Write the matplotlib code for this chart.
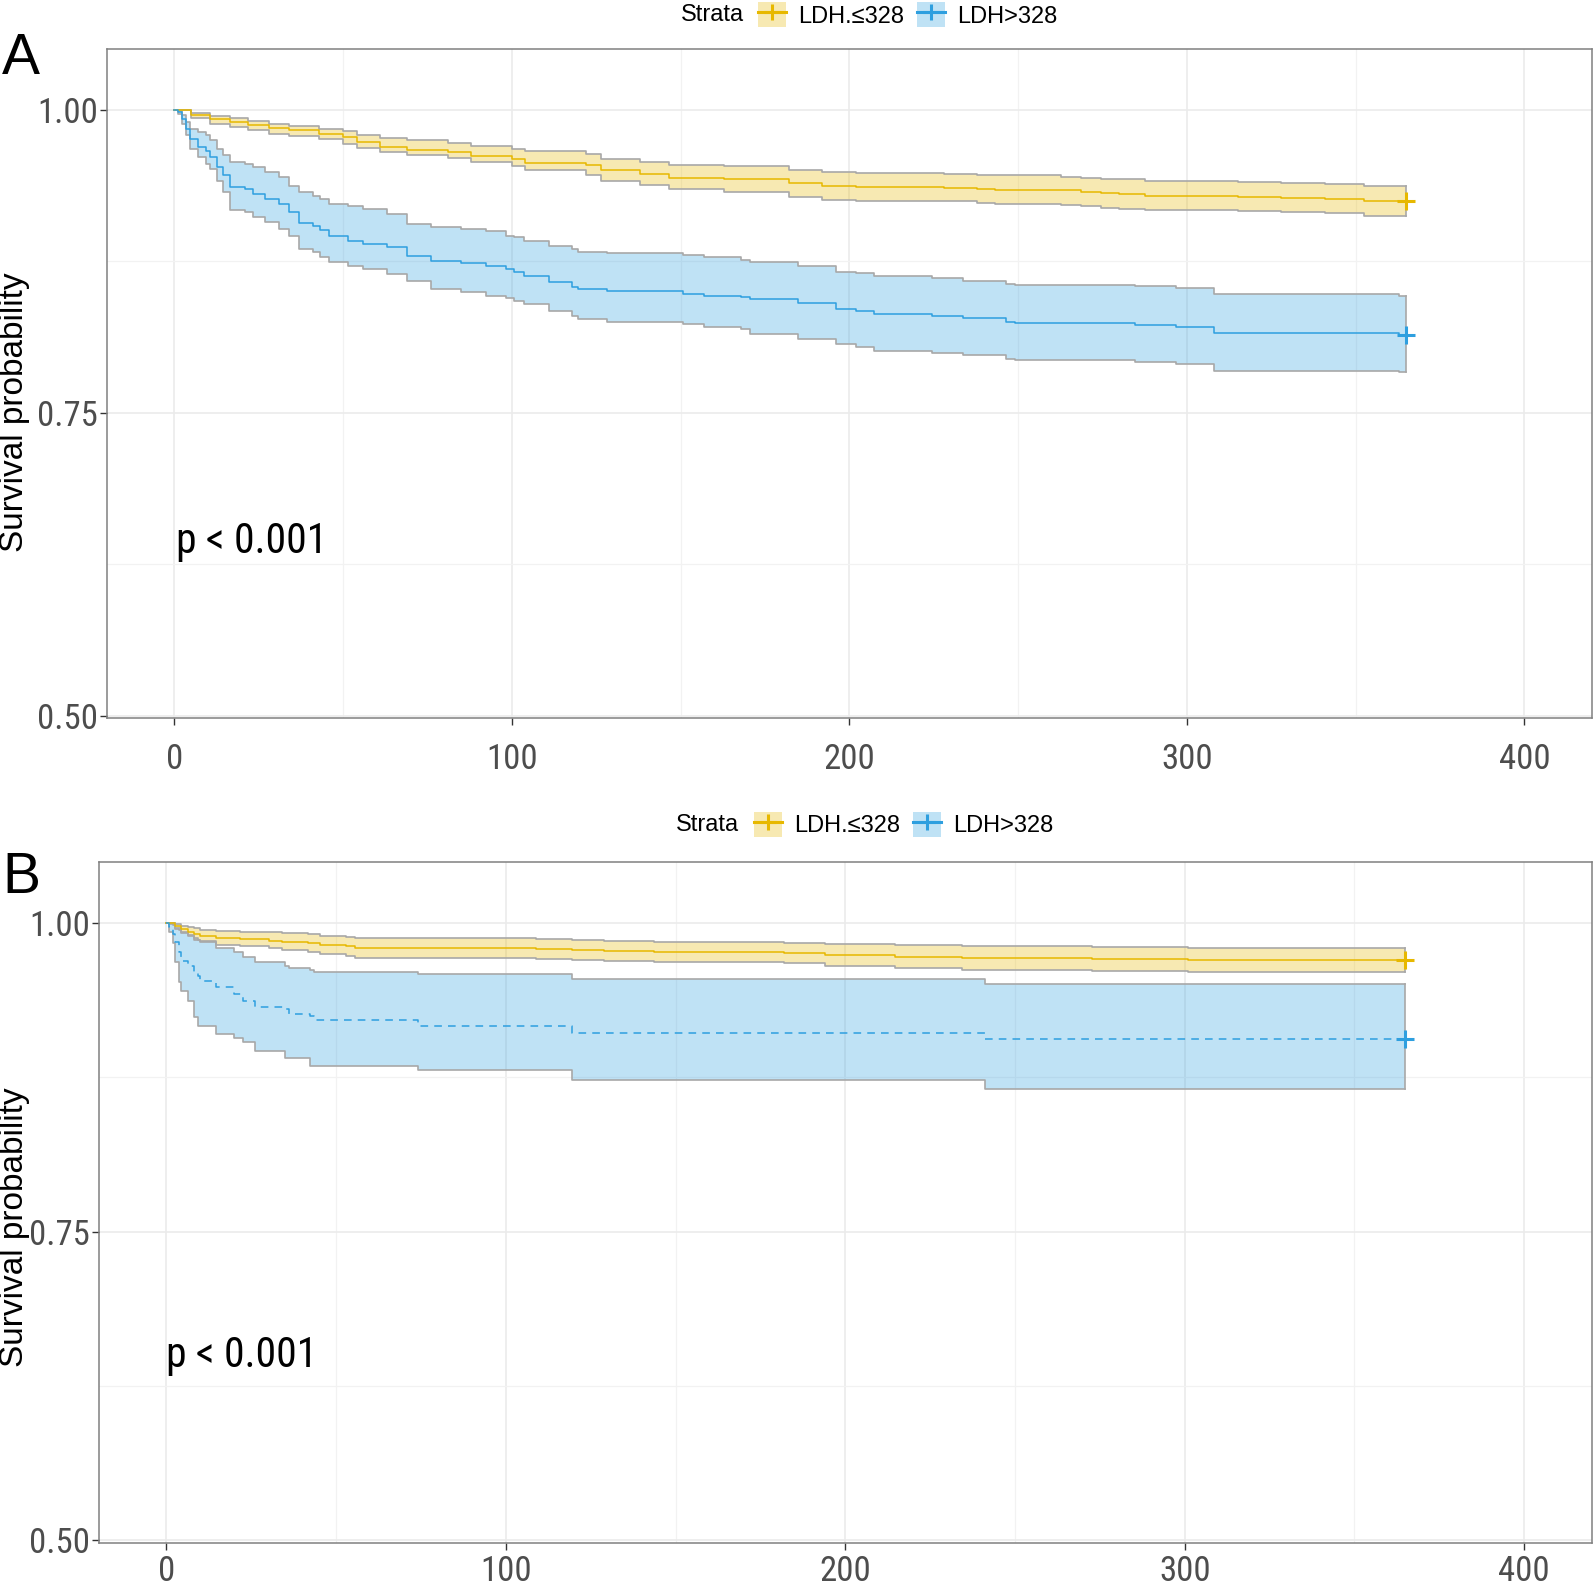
import matplotlib
matplotlib.use("Agg")
import matplotlib.pyplot as plt
from matplotlib import font_manager as fm
from matplotlib.patches import Patch
from matplotlib.lines import Line2D

# ---------------- data ----------------
strata_labels = ["LDH.\u2264328", "LDH>328"]
t_end = 365
pval_text = "p < 0.001"
x_ticks = [0, 100, 200, 300, 400]
y_ticks = [0.50, 0.75, 1.00]

# Panel A, LDH <= 328
a_low_time = [0, 5, 10.5, 16.4, 22, 28, 34, 43, 50, 54, 61, 69, 81, 88, 100, 104, 122, 126.5, 138, 146.5,
              163, 182, 192, 202, 228, 237.7, 243, 262.7, 268.7, 274.6, 280, 287.7, 315, 328, 341, 352.6]
a_low_surv = [1, 0.9953, 0.992, 0.990, 0.9876, 0.985, 0.983, 0.980, 0.9774, 0.973, 0.969, 0.967, 0.965, 0.962,
              0.9595, 0.956, 0.9546, 0.950, 0.947, 0.944, 0.943, 0.9397, 0.9375, 0.9361, 0.9353, 0.9347, 0.9339,
              0.9334, 0.932, 0.9312, 0.9306, 0.9287, 0.9279, 0.927, 0.9265, 0.9246]
a_low_upper = [1, 0.9975, 0.9948, 0.9931, 0.9904, 0.9884, 0.9865, 0.9843, 0.9821, 0.9793, 0.9766, 0.9747, 0.9727,
               0.9705, 0.9678, 0.9656, 0.9637, 0.9595, 0.9568, 0.9546, 0.9532, 0.9507, 0.949, 0.9479, 0.9471,
               0.9463, 0.9458, 0.9444, 0.9436, 0.943, 0.9425, 0.9411, 0.9405, 0.9397, 0.9389, 0.9375]
a_low_lower = [1, 0.9928, 0.9884, 0.9857, 0.9829, 0.9802, 0.9782, 0.9755, 0.9719, 0.9683, 0.965, 0.9623, 0.960,
               0.9568, 0.954, 0.950, 0.9463, 0.9416, 0.938, 0.9348, 0.9325, 0.9284, 0.9259, 0.9251, 0.9246,
               0.9232, 0.9224, 0.9216, 0.9202, 0.9188, 0.9182, 0.9169, 0.9163, 0.9155, 0.9147, 0.9127]

# Panel A, LDH > 328
a_high_time = [0, 1.2, 2.3, 3.5, 4.7, 7, 9.3, 10.5, 12.8, 14.6, 16.4, 21, 23.4, 27, 31, 34, 37, 41, 43.3, 46,
               51.5, 56, 63, 69, 76, 85, 92.5, 98.4, 100.8, 103.7, 111, 117.8, 119.5, 128.3, 150.6, 157, 168,
               170.5, 184.8, 196, 202, 207.4, 224.6, 233.6, 246.3, 249, 284.5, 296.7, 308, 362.7]
a_high_surv = [1, 0.998, 0.9926, 0.984, 0.976, 0.969, 0.966, 0.961, 0.9526, 0.9458, 0.936, 0.9347, 0.9306,
               0.9265, 0.9224, 0.9155, 0.9067, 0.9045, 0.9004, 0.8962, 0.892, 0.8893, 0.8866, 0.8797, 0.875,
               0.8736, 0.8714, 0.8687, 0.866, 0.8632, 0.8582, 0.8536, 0.852, 0.8508, 0.848, 0.8467, 0.8453,
               0.844, 0.8406, 0.836, 0.8337, 0.8315, 0.8296, 0.828, 0.8246, 0.824, 0.8226, 0.8205, 0.8156, 0.8142]
a_high_upper = [1, 0.9986, 0.9953, 0.9898, 0.9843, 0.9816, 0.9788, 0.9747, 0.9678, 0.9623, 0.9568, 0.9554,
                0.9526, 0.9485, 0.9444, 0.9375, 0.932, 0.9292, 0.9265, 0.9224, 0.9204, 0.9182, 0.9141, 0.9058,
                0.9031, 0.9017, 0.9003, 0.8962, 0.8948, 0.8921, 0.888, 0.8852, 0.883, 0.8819, 0.8802, 0.8783,
                0.8764, 0.8742, 0.8709, 0.8665, 0.8654, 0.8626, 0.861, 0.8591, 0.8563, 0.8556, 0.8549, 0.853,
                0.8481, 0.8461]
a_high_lower = [1, 0.9967, 0.9884, 0.9788, 0.9678, 0.9609, 0.9554, 0.9513, 0.9416, 0.932, 0.9169, 0.9155,
                0.9113, 0.9072, 0.9017, 0.8962, 0.8852, 0.8824, 0.8783, 0.8742, 0.8714, 0.8687, 0.8645, 0.859,
                0.8522, 0.8494, 0.8466, 0.8444, 0.8425, 0.8398, 0.8343, 0.8301, 0.8274, 0.8252, 0.8232, 0.8205,
                0.8191, 0.815, 0.8108, 0.8067, 0.8039, 0.8012, 0.7993, 0.7976, 0.7943, 0.7935, 0.7921, 0.7902,
                0.7847, 0.7833]

# Panel B, LDH <= 328
b_low_time = [0, 2.6, 4.4, 6.2, 8, 9.8, 14.6, 21.8, 30.2, 34, 41.6, 45.2, 53, 55.4, 109, 119.5, 129, 143.5,
              182, 194, 214.6, 234.5, 272.6, 301]
b_low_surv = [1, 0.9978, 0.9951, 0.993, 0.9911, 0.9897, 0.9876, 0.987, 0.9857, 0.9849, 0.9838, 0.9822, 0.9816,
              0.9798, 0.9789, 0.978, 0.977, 0.9762, 0.9754, 0.9744, 0.9727, 0.9719, 0.9708, 0.970]
b_low_upper = [1, 0.9992, 0.9978, 0.9965, 0.9957, 0.9946, 0.9935, 0.993, 0.9924, 0.9919, 0.9908, 0.9892,
               0.9887, 0.9876, 0.987, 0.9862, 0.9854, 0.9849, 0.9838, 0.983, 0.9822, 0.9811, 0.9803, 0.9795]
b_low_lower = [1, 0.9957, 0.9919, 0.9892, 0.9865, 0.9843, 0.9822, 0.9811, 0.9795, 0.9784, 0.9768, 0.9749,
               0.9735, 0.9719, 0.9708, 0.970, 0.9695, 0.9687, 0.9673, 0.9654, 0.9633, 0.9622, 0.9614, 0.9605]

# Panel B, LDH > 328
b_high_time = [0, 0.8, 2, 2.6, 3.8, 4.4, 6.2, 8, 9.2, 9.8, 14.6, 20, 22.4, 26, 35, 36.2, 42.2, 43.4, 74,
               119.5, 241.2]
b_high_surv = [1, 0.9965, 0.991, 0.9843, 0.9762, 0.9695, 0.9654, 0.960, 0.9573, 0.9533, 0.9479, 0.9425,
               0.9371, 0.9322, 0.9303, 0.9263, 0.9249, 0.9217, 0.9163, 0.9109, 0.906]
b_high_upper = [1, 0.9995, 0.998, 0.9955, 0.994, 0.9925, 0.990, 0.988, 0.986, 0.985, 0.980, 0.9765, 0.9725,
                0.968, 0.9655, 0.9635, 0.962, 0.960, 0.9585, 0.9545, 0.9505]
b_high_lower = [1, 0.993, 0.984, 0.968, 0.952, 0.945, 0.937, 0.9236, 0.9168, 0.9168, 0.9101, 0.907, 0.9033,
                0.8966, 0.8904, 0.8904, 0.8845, 0.8845, 0.881, 0.8725, 0.8655]

# ---------------- style ----------------
YELLOW = "#E7B800"
BLUE = "#2E9FDF"
CI_EDGE = "#A8A8A8"
W, H = 1594, 1583

plt.rcParams["font.family"] = ["Liberation Sans", "DejaVu Sans"]


def find_narrow_font():
    """Look for an installed narrow / condensed regular sans face."""
    entries = fm.fontManager.ttflist
    preferred = ["Liberation Sans Narrow", "Arial Narrow", "Roboto Condensed",
                 "Open Sans Condensed", "Noto Sans Condensed", "DejaVu Sans Condensed"]
    for name in preferred:
        for f in entries:
            if f.name == name and f.style == "normal" and f.weight in (400, "normal", "regular", "book"):
                return f.fname
    for f in entries:
        low = f.fname.lower()
        if ("narrow" in low or "condensed" in low) and "semi" not in low and "extra" not in low \
                and "bold" not in low and "italic" not in low and "oblique" not in low \
                and "light" not in low and "thin" not in low and "medium" not in low and "black" not in low \
                and "mono" not in low and "serif" not in f.name.lower():
            return f.fname
    for f in entries:
        if str(f.stretch) in ("condensed", "semi-condensed") and f.style == "normal" \
                and "mono" not in f.fname.lower() and "bold" not in f.fname.lower():
            return f.fname
    return None


NARROW_PATH = find_narrow_font()


def narrow_fp(size):
    if NARROW_PATH:
        return fm.FontProperties(fname=NARROW_PATH, size=size)
    return fm.FontProperties(family=["Roboto", "DejaVu Sans"], size=size * 0.8)


fig = plt.figure(figsize=(W / 100, H / 100), dpi=100)


def px_rect(left, top, right, bottom):
    return [left / W, 1 - bottom / H, (right - left) / W, (bottom - top) / H]


def draw_panel(rect, ylim, curves, xpad, pval_xy, letter, letter_base, ylabel_y,
               strata_x, key_x, legend_y):
    ax = fig.add_axes(rect)
    ax.set_xlim(-20, 420)
    ax.set_ylim(*ylim)
    ax.set_xticks(x_ticks)
    ax.set_xticks([50, 150, 250, 350], minor=True)
    ax.set_yticks(y_ticks)
    ax.set_yticks([0.625, 0.875], minor=True)
    ax.set_yticklabels([f"{v:.2f}" for v in y_ticks])
    ax.grid(which="major", color="#EBEBEB", lw=1.2, zorder=0)
    ax.grid(which="minor", color="#F2F2F2", lw=0.9, zorder=0)
    ax.set_axisbelow(True)
    for sp in ax.spines.values():
        sp.set_color("#808080")
        sp.set_linewidth(1.1)
    ax.tick_params(which="minor", length=0)
    ax.tick_params(which="major", length=5, width=1.0, color="#333333",
                   labelcolor="#4D4D4D")
    ax.tick_params(axis="y", pad=1)
    ax.tick_params(axis="x", pad=xpad)
    for lab in ax.get_xticklabels() + ax.get_yticklabels():
        lab.set_fontproperties(narrow_fp(25))

    for (tt, ss, up, lo, col, ls) in curves:
        t = list(tt) + [t_end]
        s = list(ss) + [ss[-1]]
        u = list(up) + [up[-1]]
        l = list(lo) + [lo[-1]]
        ax.fill_between(t, l, u, step="post", color=col, alpha=0.3, lw=0, zorder=2)
        ax.step(t, u, where="post", color=CI_EDGE, lw=1.2, zorder=3)
        ax.step(t, l, where="post", color=CI_EDGE, lw=1.2, zorder=3)
        ax.plot([t_end, t_end], [l[-1], u[-1]], color=CI_EDGE, lw=1.2, zorder=3)
        ax.step(t, s, where="post", color=col, lw=1.1, ls=ls, zorder=4)
        ax.plot([t_end], [ss[-1]], marker="+", ms=13, mew=2.2, color=col, zorder=5)

    ax.text(pval_xy[0], pval_xy[1], pval_text, color="black",
            ha="left", va="baseline", fontproperties=narrow_fp(30))

    fig.text(2 / W, 1 - letter_base / H, letter, fontsize=41, ha="left", va="baseline")
    fig.text(15 / W, 1 - ylabel_y / H, "Survival probability", fontsize=24,
             rotation=90, ha="center", va="center")

    fig.text(strata_x / W, 1 - legend_y / H, "Strata", fontsize=17, ha="left", va="center")
    handles = []
    for (tt, ss, up, lo, col, ls) in curves:
        handles.append((Patch(facecolor=col, alpha=0.3, edgecolor="none"),
                        Line2D([], [], color=col, lw=2.2, marker="+", ms=11, mew=2.2)))
    fig.legend(handles, strata_labels, loc="center left",
               bbox_to_anchor=(key_x / W, 1 - legend_y / H), ncol=2, frameon=False,
               fontsize=17, handlelength=1.19, handleheight=1.27, handletextpad=0.5,
               columnspacing=0.55, borderpad=0, borderaxespad=0)
    return ax


draw_panel(px_rect(106.7, 48.8, 1592, 717.7), (0.4984, 1.0503),
           [(a_low_time, a_low_surv, a_low_upper, a_low_lower, YELLOW, "-"),
            (a_high_time, a_high_surv, a_high_upper, a_high_lower, BLUE, "-")],
           xpad=13, pval_xy=(0.5, 0.634), letter="A", letter_base=74, ylabel_y=412,
           strata_x=681, key_x=758, legend_y=15)

draw_panel(px_rect(98.6, 862, 1592, 1543), (0.4976, 1.0494),
           [(b_low_time, b_low_surv, b_low_upper, b_low_lower, YELLOW, "-"),
            (b_high_time, b_high_surv, b_high_upper, b_high_lower, BLUE, (0, (5, 4)))],
           xpad=3.6, pval_xy=(0.0, 0.640), letter="B", letter_base=893, ylabel_y=1227,
           strata_x=676, key_x=754, legend_y=824.5)

fig.savefig("out.png", dpi=100)
